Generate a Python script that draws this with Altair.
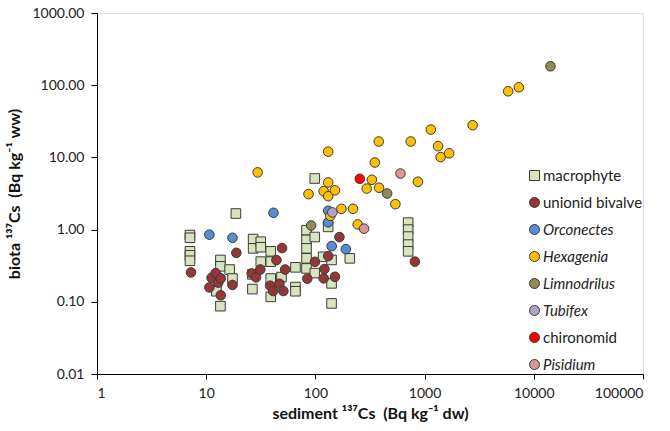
import altair as alt
import pandas as pd

categories = ["macrophyte", "unionid bivalve", "Orconectes", "Hexagenia",
              "Limnodrilus", "Tubifex", "chironomid", "Pisidium"]
colors = ["#D7E4BD", "#953735", "#558ED5", "#FFC000",
          "#948A54", "#B3A2C7", "#FF0000", "#D99694"]
shapes = ["square", "circle", "circle", "circle", "circle", "circle", "circle", "circle"]
italic_names = ["Orconectes", "Hexagenia", "Limnodrilus", "Tubifex", "Pisidium"]

macrophyte_x = [7.1, 7.1, 7.1, 7.1, 7.1, 18.7, 13.5, 13.5, 13.5, 12.4, 16.4, 17.4,
                26.9, 26.9, 26.5, 26.5, 31.6, 31.6, 39, 31.6, 39, 39, 39,
                48.9, 65.7, 65.7, 65.7, 82.9, 82.9, 82.9, 82.9, 82.9,
                98.7, 98.7, 98.7, 117.6, 130.7, 140.6, 140.6, 140.6, 206.6,
                707, 707, 707, 707, 707]
macrophyte_y = [0.84, 0.77, 0.50, 0.44, 0.37, 1.67, 0.38, 0.31, 0.087, 0.14, 0.28, 0.21,
                0.74, 0.55, 0.24, 0.15, 0.68, 0.57, 0.50, 0.36, 0.36, 0.21, 0.117,
                0.22, 0.30, 0.16, 0.14, 0.98, 0.72, 0.55, 0.40, 0.29,
                5.1, 0.79, 0.25, 0.42, 1.09, 0.38, 0.18, 0.095, 0.40,
                1.25, 1.0, 0.8, 0.62, 0.5]

unionid_x = [7.26, 10.7, 11.2, 12.2, 12.9, 13.6, 13.6, 17.4, 18.9, 26.1, 28.6, 31.3,
             38.5, 41, 44, 46.9, 49.5, 50.9, 52.8, 84.3, 99.1, 119, 121, 131, 151, 166, 815]
unionid_y = [0.255, 0.158, 0.215, 0.25, 0.184, 0.123, 0.211, 0.171, 0.477, 0.247, 0.218, 0.28,
             0.167, 0.141, 0.378, 0.178, 0.555, 0.141, 0.28, 0.209, 0.358, 0.211, 0.284, 0.43,
             0.222, 0.787, 0.36]

orconectes_x = [10.7, 17.4, 41.3, 131, 131, 141, 190]
orconectes_y = [0.85, 0.77, 1.71, 1.82, 1.26, 0.59, 0.537]

hexagenia_x = [29.6, 131, 86.5, 119, 131, 131, 151, 137, 173, 221, 244, 329, 295, 383,
               350, 380, 746, 540, 869, 1140, 1328, 1402, 1679, 2755, 5823, 7295]
hexagenia_y = [6.2, 12.0, 3.1, 3.4, 4.5, 2.9, 3.5, 1.55, 1.94, 1.94, 1.18, 4.9, 3.7, 3.8,
               8.5, 16.6, 16.6, 2.25, 4.6, 24.3, 14.3, 10.1, 11.4, 27.9, 82.4, 93.6]

limnodrilus_x = [14210, 454, 91.4]
limnodrilus_y = [183, 3.16, 1.14]

tubifex_x = [143]
tubifex_y = [1.73]

chironomid_x = [255]
chironomid_y = [5.05]

pisidium_x = [601, 279]
pisidium_y = [5.98, 1.03]

x_ticks = [1, 10, 100, 1000, 10000, 100000]
y_ticks = [0.01, 0.1, 1, 10, 100, 1000]

series = [
    ("macrophyte", macrophyte_x, macrophyte_y),
    ("unionid bivalve", unionid_x, unionid_y),
    ("Orconectes", orconectes_x, orconectes_y),
    ("Hexagenia", hexagenia_x, hexagenia_y),
    ("Limnodrilus", limnodrilus_x, limnodrilus_y),
    ("Tubifex", tubifex_x, tubifex_y),
    ("chironomid", chironomid_x, chironomid_y),
    ("Pisidium", pisidium_x, pisidium_y),
]
rows = []
order = 0
for name, xs, ys in series:
    for xv, yv in zip(xs, ys):
        rows.append({"group": name, "sediment": xv, "biota": yv, "order": order})
        order += 1
df = pd.DataFrame(rows)

FONT = "Lato"
italic_expr = ("indexof(['" + "','".join(italic_names) + "'], datum.value) >= 0 ? 'italic' : 'normal'")
NB = "\u00a0"

chart = alt.Chart(df).mark_point(
    filled=True, size=92, stroke="#3a3a3a", strokeWidth=1, opacity=1
).encode(
    x=alt.X("sediment:Q",
            scale=alt.Scale(type="log", domain=[1, 100000], nice=False),
            axis=alt.Axis(values=x_ticks, format="d", grid=False,
                          title="sediment ¹³⁷Cs " + NB + "(Bq kg⁻¹ dw)",
                          labelFont=FONT, labelFontSize=14, labelColor="#222222",
                          titleFont=FONT, titleFontSize=16, titleFontWeight="bold",
                          titleColor="#111111", tickSize=5, tickColor="#000000",
                          domainColor="#000000", labelPadding=7, titlePadding=5)),
    y=alt.Y("biota:Q",
            scale=alt.Scale(type="log", domain=[0.01, 1000], nice=False),
            axis=alt.Axis(values=y_ticks, format=".2f", grid=False,
                          title="biota ¹³⁷Cs " + NB + "(Bq kg⁻¹ ww)",
                          labelFont=FONT, labelFontSize=14, labelColor="#222222",
                          titleFont=FONT, titleFontSize=16, titleFontWeight="bold",
                          titleColor="#111111", tickSize=6, tickColor="#000000",
                          domainColor="#000000", labelPadding=7, titlePadding=9)),
    color=alt.Color("group:N",
                    scale=alt.Scale(domain=categories, range=colors),
                    sort=categories,
                    legend=alt.Legend(
                        title=None, orient="none", legendX=430, legendY=155,
                        labelFont=FONT, labelFontSize=15, labelColor="#222222",
                        labelFontStyle=alt.ExprRef(italic_expr),
                        symbolSize=100, symbolStrokeColor="#3a3a3a", symbolStrokeWidth=1,
                        rowPadding=11, labelOffset=1, padding=0)),
    shape=alt.Shape("group:N",
                    scale=alt.Scale(domain=categories, range=shapes),
                    sort=categories,
                    legend=alt.Legend(title=None, orient="none", legendX=430, legendY=155)),
    order=alt.Order("order:Q"),
).properties(
    width=546, height=361,
    autosize=alt.AutoSizeParams(type="none"),
    padding={"left": 97, "top": 13, "right": 27, "bottom": 57},
).configure_view(
    stroke="#000000", strokeWidth=1
).configure(
    background="#ffffff"
)

chart.save("out.html", embed_options={"renderer": "svg", "actions": False})
